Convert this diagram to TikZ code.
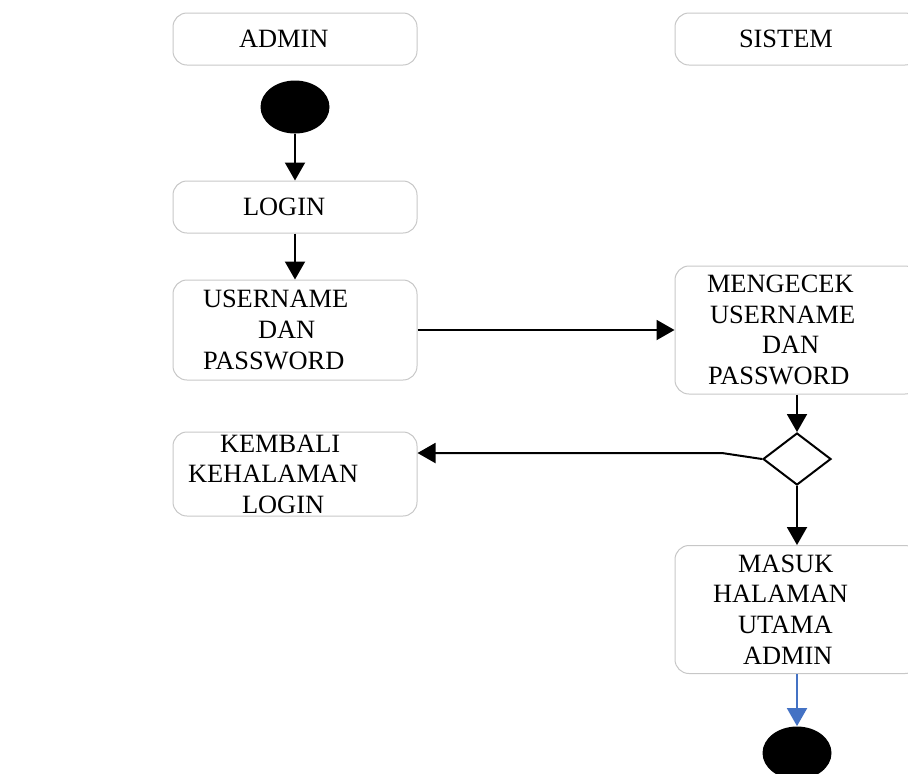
\documentclass[tikz,border=0pt]{standalone}
\usepackage{fontspec}
\setmainfont{Liberation Serif}
\usetikzlibrary{shapes.geometric, arrows.meta}
\definecolor{flowblue}{HTML}{4472C4}
\newcommand{\geser}[1]{\hspace*{#1pt}}
\tikzset{actbox/.style={
    draw=black!22, line width=0.5pt, rounded corners=7pt,
    minimum width=122pt, inner xsep=2pt, inner ysep=0pt,
    text width=118pt, align=left,
    font=\fontsize{13.2}{15.3}\selectfont
  },
  flow/.style={-{Triangle[width=10pt,length=9pt]}, line width=1pt},
  blackdot/.style={ellipse, fill=black, inner sep=0pt,
    minimum width=34.5pt, minimum height=26.5pt}
}

\begin{document}
\begin{tikzpicture}[x=0.5pt,y=-0.5pt]
      \path[use as bounding box, clip] (0,0) rectangle (908,773);
      \node[actbox, minimum height=26pt] (admin) at (295,39) {\geser{31}ADMIN};
      \node[actbox, minimum height=26pt] (sistem) at (797,39) {\geser{30}SISTEM};
      \node[blackdot] (start) at (295,107) {};
      \node[actbox, minimum height=26pt] (login) at (295,207) {\geser{33}LOGIN};
      \node[actbox, minimum height=50pt] (userpass) at (295,330)
        {\geser{13}USERNAME\\\geser{40.5}DAN\\\geser{13}PASSWORD};
      \node[actbox, minimum height=64pt] (cek) at (797,330)
        {\geser{14}MENGECEK\\\geser{15.5}USERNAME\\\geser{41.5}DAN\\\geser{14.5}PASSWORD};
      \node[diamond, draw, line width=1pt, inner sep=0pt, minimum width=34pt, minimum height=26pt] (pilih) at (797,459) {};
      \node[actbox, minimum height=42pt] (kembali) at (295,474)
        {\geser{21.5}KEMBALI\\\geser{5.5}KEHALAMAN\\\geser{32.5}LOGIN};
      \node[actbox, minimum height=64pt] (utama) at (797,609.5)
        {\geser{29.5}MASUK\\\geser{17}HALAMAN\\\geser{29.5}UTAMA\\\geser{32}ADMIN};
      \node[blackdot] (stop) at (797,753) {};
      \coordinate (belok) at (722,453);
      \draw[flow] (start) -- (login);
      \draw[flow] (login) -- (userpass);
      \draw[flow] (userpass) -- (cek);
      \draw[flow] (cek) -- (pilih);
      \draw[flow] (pilih.west) -- (belok) -- (belok -| kembali.east);
      \draw[flow] (pilih) -- (utama);
      \draw[flow, flowblue] (utama) -- (stop);
\end{tikzpicture}
\end{document}
